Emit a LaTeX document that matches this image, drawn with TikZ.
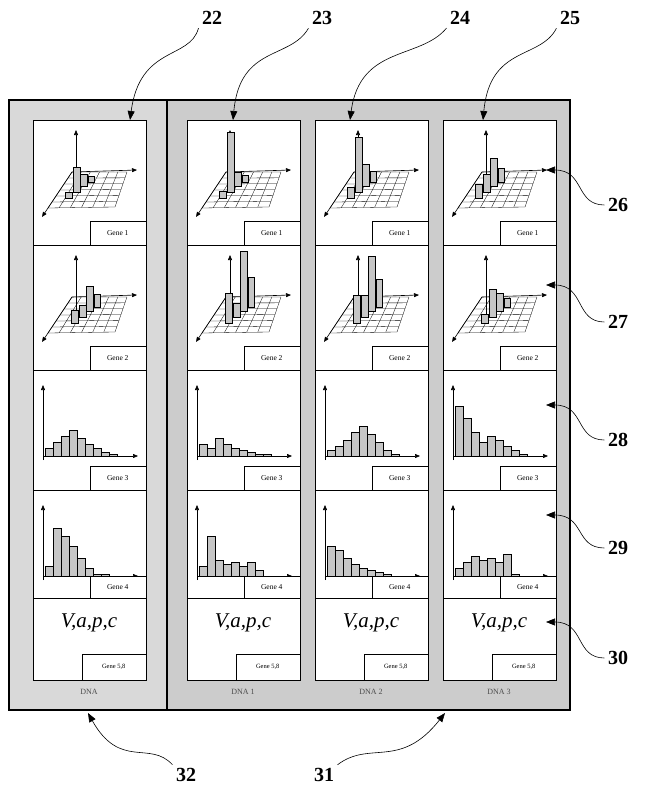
\documentclass[tikz,border=0pt]{standalone}
\usepackage{fontspec}
\setmainfont{Liberation Serif}
\usetikzlibrary{arrows.meta}
\begin{document}
\begin{tikzpicture}[x=1pt,y=-1pt,
  panel/.style={draw=black,line width=1.8pt},
  card/.style={draw=black,fill=white,line width=0.5pt},
  genebox/.style={draw=black,fill=white,line width=0.5pt,inner sep=0pt,font=\fontsize{7.5}{7.5}\selectfont},
  bar/.style={draw=black,line width=0.3pt,fill=gray!45},
  ax/.style={line width=0.6pt,-{Triangle[length=5pt,width=4pt]}},
  num/.style={font=\fontsize{20}{20}\bfseries\selectfont},
  call/.style={line width=0.6pt,-{Triangle[length=9pt,width=7pt]}},
  pics/grid3d/.style n args={3}{code={
    \draw[line width=0.3pt] (39,52)--(94,52)--(82,87)--(15,88)--cycle;
    \foreach \i in {1,...,5}{
      \draw[line width=0.3pt] ({39+\i*55/6},52)--({15+\i*67/6},{88-\i*0.2});
      \draw[line width=0.3pt] ({39-\i*24/6},{52+\i*36/6})--({94-\i*12/6},{52+\i*35/6});}
    \draw[ax] (43,70)--(43,10);
    \draw[ax] (39,52)--(104,50);
    \draw[ax] (39,52)--(9,97);
    \draw[bar] (#1,{72-#2})rectangle++(7,#2);
    \draw[bar] ({#1+7},{66-#3})rectangle++(7,#3);
    \draw[bar] ({#1-8},{78-#3/2})rectangle++(7,{#3/2});
    \draw[bar] ({#1+15},{62-#3/2})rectangle++(6,{#3/2});
  }},
  pics/hist/.style={code={
    \draw[ax] (10,90)--(10,15);
    \draw[ax] (10,86)--(105,86);
    \foreach \h [count=\k] in #1
      \draw[bar] ({4+\k*8},86)rectangle++(8,-\h);
  }}
]
\useasboundingbox (0,0) rectangle (661,795);
% panels
\fill[gray!30] (9,100) rectangle (167,710);
\fill[gray!40] (167,100) rectangle (570,710);
\draw[panel] (9,100) rectangle (570,710);
\draw[panel] (167,100)--(167,710);
% columns
\foreach \c/\x/\dn/\bA/\bB/\hist/\histb in {
  1/33/DNA/{25}/{12}/{8,14,20,26,18,12,8,4,2}/{10,48,40,30,18,8,2,2},
  2/187/DNA 1/{60}/{14}/{12,8,18,12,8,6,4,2,2}/{10,40,16,12,14,10,14,6},
  3/315/DNA 2/{55}/{22}/{6,10,16,24,30,22,14,6,2}/{30,26,18,12,8,6,4,2},
  4/443/DNA 3/{18}/{28}/{50,38,24,14,20,16,10,6,2}/{8,14,20,16,18,14,22,2}}{
  \draw[card] (\x,120) rectangle ++(113,560);
  \foreach \y in {245,370,490,598} \draw[line width=0.5pt] (\x,\y)--++(113,0);
  \begin{scope}[shift={(\x,120)}]\pic{grid3d={40}{\bA}{\bB}};\end{scope}
  \begin{scope}[shift={(\x,245)}]\pic{grid3d={46}{\bB}{\bA}};\end{scope}
  \begin{scope}[shift={(\x,370)}]\pic{hist={\hist}};\end{scope}
  \begin{scope}[shift={(\x,490)},yscale=0.9]\pic{hist={\histb}};\end{scope}
  \node[genebox,minimum width=56pt,minimum height=24pt,anchor=south east] (g1\c) at (\x+113,245) {Gene 1};
  \node[genebox,minimum width=56pt,minimum height=24pt,anchor=south east] (g2\c) at (\x+113,370) {Gene 2};
  \node[genebox,minimum width=56pt,minimum height=24pt,anchor=south east] (g3\c) at (\x+113,490) {Gene 3};
  \node[genebox,minimum width=56pt,minimum height=22pt,anchor=south east] (g4\c) at (\x+113,598) {Gene 4};
  \node[genebox,minimum width=64pt,minimum height=26pt,anchor=south east,font=\fontsize{6.5}{6.5}\selectfont] (g5\c) at (\x+113,680) {Gene 5,8};
  \node[font=\fontsize{21}{21}\itshape\selectfont] (v\c) at (\x+56,623) {V,a,p,c};
  \node[font=\fontsize{8}{8}\selectfont,text=gray!60!black] (d\c) at (\x+56,692) {\dn};
}
% top callouts
\node[num] (n22) at (212,18) {22};
\node[num] (n23) at (322,18) {23};
\node[num] (n24) at (460,18) {24};
\node[num] (n25) at (570,18) {25};
\coordinate (t22) at (130,120); \coordinate (t23) at (233,120);
\coordinate (t24) at (350,120); \coordinate (t25) at (483,120);
\draw[call] (n22.south west) .. controls (190,60) and (140,45) .. (t22);
\draw[call] (n23.south west) .. controls (290,60) and (240,45) .. (t23);
\draw[call] (n24.south west) .. controls (420,60) and (360,45) .. (t24);
\draw[call] (n25.south west) .. controls (540,60) and (490,45) .. (t25);
% right callouts
\foreach \n/\y/\ty in {26/205/170, 27/322/285, 28/440/405, 29/548/515, 30/658/622}{
  \node[num] (n\n) at (618,\y) {\n};
  \coordinate (t\n) at (546,\ty);
  \draw[call] (n\n.west) .. controls (575,\y) and (585,\ty) .. (t\n);
}
% bottom callouts
\node[num] (n32) at (186,775) {32};
\node[num] (n31) at (324,775) {31};
\coordinate (t32) at (88,713); \coordinate (t31) at (445,713);
\draw[call] (n32.north west) .. controls (150,740) and (120,770) .. (t32);
\draw[call] (n31.north east) .. controls (370,740) and (400,770) .. (t31);
\end{tikzpicture}
\end{document}
